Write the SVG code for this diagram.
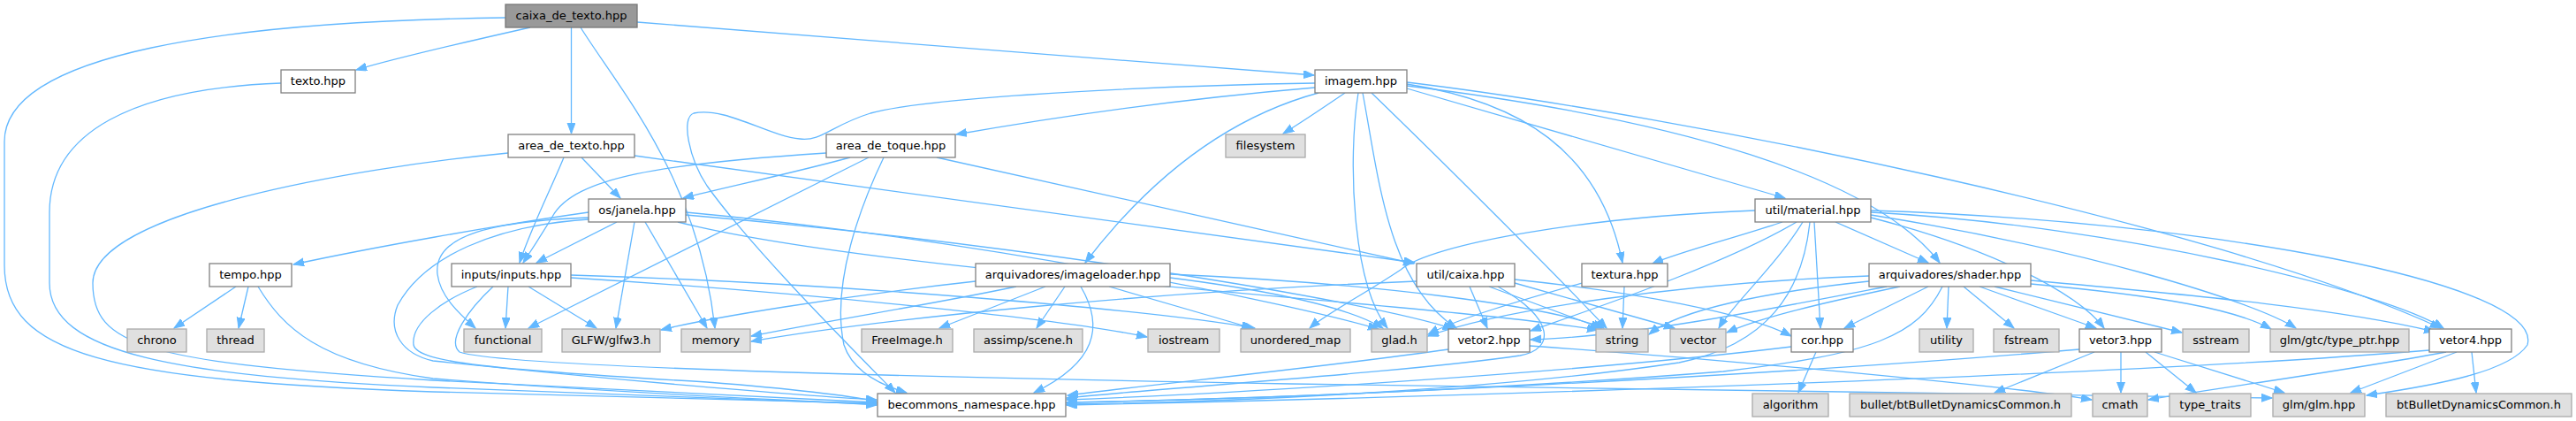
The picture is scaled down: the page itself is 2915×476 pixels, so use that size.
<svg xmlns="http://www.w3.org/2000/svg" width="2915" height="476" viewBox="0 0 2915 476">
<defs>
<marker id="a" markerWidth="13" markerHeight="10" refX="12" refY="4.5" orient="auto" markerUnits="userSpaceOnUse">
<path d="M0,0 L12,4.5 L0,9 Z" fill="#63b8ff" stroke="#63b8ff" stroke-width="1"/>
</marker>
</defs>
<style>
.n rect{fill:#ffffff;stroke:#808080;stroke-width:1.3}
.x rect{fill:#e0e0e0;stroke:#aaaaaa;stroke-width:1.3}
.m rect{fill:#999999;stroke:#777777;stroke-width:1.3}
text{font-family:"DejaVu Sans",sans-serif;font-size:13px;text-anchor:middle;fill:#000000}
#edges path{fill:none;stroke:#63b8ff;stroke-width:1.3;marker-end:url(#a)}
</style>
<rect width="2915" height="476" fill="#ffffff"/>
<g id="edges">
<path d="M572,20 C260,24 5,60 5,160 L5,300 C5,400 120,430 490,443 C700,450 900,453 992,456"/>
<path d="M600,31 C560,40 450,65 403,79"/>
<path d="M646.5,31 L646.5,151"/>
<path d="M721,25 C900,40 1300,70 1487,85"/>
<path d="M657,31 C700,100 790,200 809,371"/>
<path d="M318,94 C150,100 56,150 56,240 L56,320 C56,400 200,425 490,438 C700,446 900,452 992,457"/>
<path d="M575,173 C400,190 105,240 105,320 C105,390 160,410 490,430 C700,440 900,450 992,455"/>
<path d="M658,178 L702,224"/>
<path d="M638,178 C625,210 600,260 588,297"/>
<path d="M718,176 L1601,297"/>
<path d="M1488,94 C1300,97 1050,110 985,128 C940,142 930,160 905,157 C870,154 820,120 785,128 C770,133 780,180 800,210 C850,280 960,390 1013,444"/>
<path d="M1488,99 C1300,115 1150,140 1082,152"/>
<path d="M1522,105 C1500,120 1475,137 1452,151"/>
<path d="M1492,105 C1400,130 1310,190 1228,297"/>
<path d="M1592,100 L2020,224"/>
<path d="M1592,95 C1720,115 1810,170 1836,297"/>
<path d="M1592,97 C1900,135 2120,200 2195,297"/>
<path d="M1592,93 C1900,130 2500,250 2762,371"/>
<path d="M1537,105 C1525,180 1530,320 1570,371"/>
<path d="M1542,105 C1560,200 1570,320 1648,371"/>
<path d="M1552,105 C1640,190 1760,310 1818,371"/>
<path d="M1000,178 C975,230 940,320 955,390 C965,420 995,435 1026,444"/>
<path d="M962,178 C900,195 820,212 773,224"/>
<path d="M935,173 C750,185 650,200 625,245 C610,270 600,285 592,297"/>
<path d="M983,178 L598,371"/>
<path d="M1060,178 L1600,298"/>
<path d="M666,240 C560,255 420,280 332,299"/>
<path d="M698,251 L607,297"/>
<path d="M666,246 C560,250 490,265 495,310 C498,335 520,355 538,371"/>
<path d="M718,251 L697,371"/>
<path d="M730,251 L800,371"/>
<path d="M666,248 C560,255 480,290 450,345 C438,375 455,400 490,408 C700,430 900,447 992,452"/>
<path d="M776,240 C1100,270 1450,340 1560,372"/>
<path d="M776,243 C1150,275 1550,340 1645,372"/>
<path d="M767,251 C1000,310 1600,340 1808,373"/>
<path d="M267,324 L197,371"/>
<path d="M281,324 L270,371"/>
<path d="M292,324 C320,370 360,410 490,428 C700,445 900,452 992,458"/>
<path d="M575,324 L572,371"/>
<path d="M598,324 L675,371"/>
<path d="M540,324 C500,340 465,365 468,390 C472,410 560,418 800,432 C900,440 960,447 992,454"/>
<path d="M558,324 C530,350 505,385 520,398 C560,412 900,424 1460,434 C2000,442 2400,447 2571,450"/>
<path d="M646,314 C900,330 1200,360 1298,381"/>
<path d="M646,311 C950,320 1300,350 1420,371"/>
<path d="M1183,324 L1063,371"/>
<path d="M1205,324 L1173,371"/>
<path d="M1223,324 C1250,370 1240,410 1170,444"/>
<path d="M1255,324 L1417,371"/>
<path d="M1150,324 C1050,345 950,360 850,380"/>
<path d="M1104,318 C950,335 800,360 748,373"/>
<path d="M1324,314 C1450,330 1530,350 1565,371"/>
<path d="M1324,310 C1550,320 1750,345 1815,371"/>
<path d="M1603,318 C1300,330 1000,360 850,386"/>
<path d="M1663,324 L1683,371"/>
<path d="M1685,324 L1812,371"/>
<path d="M1695,324 C1760,360 1760,395 1720,402 C1600,420 1300,440 1207,450"/>
<path d="M1714,320 L1895,371"/>
<path d="M1714,316 C1850,330 1980,355 2027,380"/>
<path d="M1838,324 L1836,371"/>
<path d="M1790,320 C1720,340 1650,360 1616,378"/>
<path d="M2077,251 L2182,297"/>
<path d="M2053,251 L2060,371"/>
<path d="M2017,251 C1960,270 1900,285 1870,298"/>
<path d="M2033,251 C1950,300 1800,350 1732,374"/>
<path d="M2040,251 C2010,300 1960,345 1945,371"/>
<path d="M2048,251 C2040,330 2000,390 1900,410 C1700,440 1400,455 1207,457"/>
<path d="M1986,238 C1800,245 1620,275 1585,305 C1540,335 1500,355 1482,371"/>
<path d="M2117,246 C2250,280 2350,330 2381,371"/>
<path d="M2117,243 C2350,280 2550,340 2598,371"/>
<path d="M2117,240 C2400,255 2700,330 2765,371"/>
<path d="M2117,238 C2500,250 2880,320 2860,390 C2840,420 2760,435 2678,447"/>
<path d="M2182,324 L2087,371"/>
<path d="M2205,324 L2203,371"/>
<path d="M2222,324 L2279,371"/>
<path d="M2240,324 L2372,371"/>
<path d="M2198,324 C2170,380 2120,400 1950,420 C1700,440 1400,452 1207,455"/>
<path d="M2257,324 L2469,376"/>
<path d="M2298,321 C2450,335 2530,350 2570,372"/>
<path d="M2298,317 C2500,335 2650,350 2755,375"/>
<path d="M2150,324 C2050,345 1990,360 1954,376"/>
<path d="M2115,312 C1900,320 1700,350 1616,380"/>
<path d="M2115,318 C2000,330 1900,350 1866,378"/>
<path d="M2135,324 C2000,350 1850,380 1732,384"/>
<path d="M2055,398 L2035,444"/>
<path d="M2027,392 C1800,420 1400,445 1207,452"/>
<path d="M1639,395 C1500,415 1300,435 1208,447"/>
<path d="M1731,391 C2000,410 2300,440 2367,452"/>
<path d="M2353,395 C2000,425 1500,450 1207,455"/>
<path d="M2370,398 L2257,444"/>
<path d="M2400,398 L2400,444"/>
<path d="M2428,398 L2485,444"/>
<path d="M2438,398 L2585,444"/>
<path d="M2749,396 C2400,425 1600,450 1207,458"/>
<path d="M2768,398 C2650,420 2500,440 2431,452"/>
<path d="M2780,398 L2660,444"/>
<path d="M2797,398 L2802,444"/>
</g>
<g id="caixa_de_texto" class="m"><rect x="572" y="5" width="149" height="26"/><text x="646.5" y="22">caixa_de_texto.hpp</text></g>
<g id="texto" class="n"><rect x="318" y="79" width="84" height="26"/><text x="360" y="96">texto.hpp</text></g>
<g id="imagem" class="n"><rect x="1488" y="79" width="104" height="26"/><text x="1540" y="96">imagem.hpp</text></g>
<g id="area_de_texto" class="n"><rect x="575" y="152" width="143" height="26"/><text x="646.5" y="169">area_de_texto.hpp</text></g>
<g id="area_de_toque" class="n"><rect x="935" y="152" width="146" height="26"/><text x="1008" y="169">area_de_toque.hpp</text></g>
<g id="filesystem" class="x"><rect x="1387" y="152" width="90" height="26"/><text x="1432" y="169">filesystem</text></g>
<g id="janela" class="n"><rect x="666" y="225" width="110" height="26"/><text x="721" y="242">os/janela.hpp</text></g>
<g id="material" class="n"><rect x="1986" y="225" width="131" height="26"/><text x="2051.5" y="242">util/material.hpp</text></g>
<g id="tempo" class="n"><rect x="237" y="298" width="93" height="26"/><text x="283.5" y="315">tempo.hpp</text></g>
<g id="inputs" class="n"><rect x="511" y="298" width="135" height="26"/><text x="578.5" y="315">inputs/inputs.hpp</text></g>
<g id="imageloader" class="n"><rect x="1104" y="298" width="220" height="26"/><text x="1214" y="315">arquivadores/imageloader.hpp</text></g>
<g id="util_caixa" class="n"><rect x="1603" y="298" width="111" height="26"/><text x="1658.5" y="315">util/caixa.hpp</text></g>
<g id="textura" class="n"><rect x="1790" y="298" width="97" height="26"/><text x="1838.5" y="315">textura.hpp</text></g>
<g id="shader" class="n"><rect x="2115" y="298" width="183" height="26"/><text x="2206.5" y="315">arquivadores/shader.hpp</text></g>
<g id="chrono" class="x"><rect x="144" y="372" width="67" height="26"/><text x="177.5" y="389">chrono</text></g>
<g id="thread" class="x"><rect x="234" y="372" width="65" height="26"/><text x="266.5" y="389">thread</text></g>
<g id="functional" class="x"><rect x="525" y="372" width="88" height="26"/><text x="569" y="389">functional</text></g>
<g id="glfw" class="x"><rect x="636" y="372" width="111" height="26"/><text x="691.5" y="389">GLFW/glfw3.h</text></g>
<g id="memory" class="x"><rect x="771" y="372" width="78" height="26"/><text x="810" y="389">memory</text></g>
<g id="freeimage" class="x"><rect x="975" y="372" width="103" height="26"/><text x="1026.5" y="389">FreeImage.h</text></g>
<g id="assimp" class="x"><rect x="1102" y="372" width="123" height="26"/><text x="1163.5" y="389">assimp/scene.h</text></g>
<g id="iostream" class="x"><rect x="1299" y="372" width="81" height="26"/><text x="1339.5" y="389">iostream</text></g>
<g id="unordered_map" class="x"><rect x="1404" y="372" width="124" height="26"/><text x="1466" y="389">unordered_map</text></g>
<g id="glad" class="x"><rect x="1552" y="372" width="63" height="26"/><text x="1583.5" y="389">glad.h</text></g>
<g id="vetor2" class="n"><rect x="1639" y="372" width="92" height="26"/><text x="1685" y="389">vetor2.hpp</text></g>
<g id="string" class="x"><rect x="1806" y="372" width="59" height="26"/><text x="1835.5" y="389">string</text></g>
<g id="vector" class="x"><rect x="1890" y="372" width="63" height="26"/><text x="1921.5" y="389">vector</text></g>
<g id="cor" class="n"><rect x="2027" y="372" width="70" height="26"/><text x="2062" y="389">cor.hpp</text></g>
<g id="utility" class="x"><rect x="2172" y="372" width="61" height="26"/><text x="2202.5" y="389">utility</text></g>
<g id="fstream" class="x"><rect x="2256" y="372" width="74" height="26"/><text x="2293" y="389">fstream</text></g>
<g id="vetor3" class="n"><rect x="2353" y="372" width="93" height="26"/><text x="2399.5" y="389">vetor3.hpp</text></g>
<g id="sstream" class="x"><rect x="2470" y="372" width="75" height="26"/><text x="2507.5" y="389">sstream</text></g>
<g id="type_ptr" class="x"><rect x="2569" y="372" width="157" height="26"/><text x="2647.5" y="389">glm/gtc/type_ptr.hpp</text></g>
<g id="vetor4" class="n"><rect x="2749" y="372" width="93" height="26"/><text x="2795.5" y="389">vetor4.hpp</text></g>
<g id="becommons" class="n"><rect x="993" y="445" width="213" height="26"/><text x="1099.5" y="462">becommons_namespace.hpp</text></g>
<g id="algorithm" class="x"><rect x="1983" y="445" width="86" height="26"/><text x="2026" y="462">algorithm</text></g>
<g id="bullet" class="x"><rect x="2093" y="445" width="251" height="26"/><text x="2218.5" y="462">bullet/btBulletDynamicsCommon.h</text></g>
<g id="cmath" class="x"><rect x="2368" y="445" width="62" height="26"/><text x="2399" y="462">cmath</text></g>
<g id="type_traits" class="x"><rect x="2455" y="445" width="92" height="26"/><text x="2501" y="462">type_traits</text></g>
<g id="glm" class="x"><rect x="2572" y="445" width="104" height="26"/><text x="2624" y="462">glm/glm.hpp</text></g>
<g id="btbullet" class="x"><rect x="2700" y="445" width="210" height="26"/><text x="2805" y="462">btBulletDynamicsCommon.h</text></g>
</svg>
